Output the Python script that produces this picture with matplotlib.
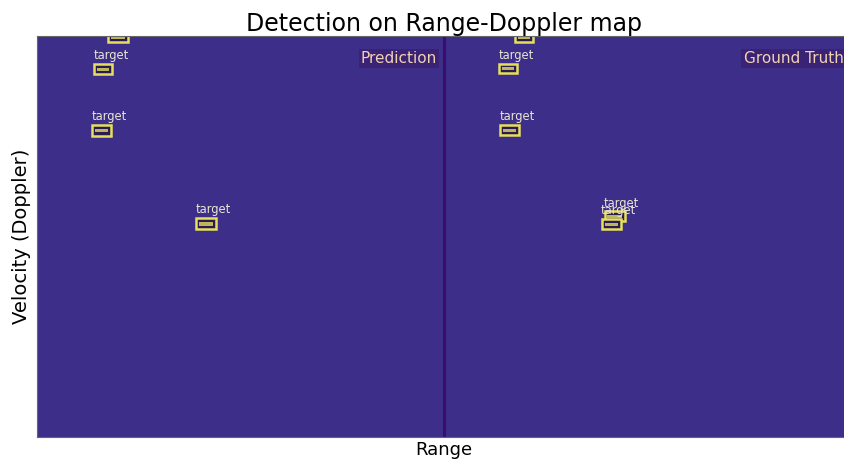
import numpy as np
import matplotlib
matplotlib.use("Agg")
import matplotlib.pyplot as plt
from matplotlib.colors import LinearSegmentedColormap
from matplotlib.patches import Rectangle

# Range-Doppler map size for one panel (doppler bins x range bins)
n_doppler = 128
n_range = 128
noise_level = 0.15

# Detections: (range start, doppler start, range width, doppler height)
pred_boxes = [
    (22.3, -1.0, 6.3, 2.9),
    (17.9, 8.9, 5.7, 3.2),
    (17.3, 28.4, 6.0, 3.5),
    (50.0, 58.1, 6.3, 3.6),
]
truth_boxes = [
    (22.5, -1.0, 5.6, 2.9),
    (17.5, 8.9, 5.6, 2.9),
    (17.8, 28.4, 5.9, 3.2),
    (50.7, 56.0, 6.3, 3.2),
    (49.8, 58.5, 6.0, 3.2),
]
box_label = "target"
panel_titles = ["Prediction", "Ground Truth"]

cmap = LinearSegmentedColormap.from_list(
    "rd", [(0.0, "#3a0c6c"), (0.15, "#3e2f8b"), (0.5, "#21918c"), (1.0, "#fde725")]
)

rd_map = np.full((n_doppler, 2 * n_range), noise_level)

fig = plt.figure(figsize=(8.44, 4.63), dpi=100)
ax = fig.add_axes([37 / 844, 26 / 463, 813 / 844, 401 / 463])
ax.imshow(rd_map, cmap=cmap, vmin=0, vmax=1, aspect="auto",
          extent=(0, 2 * n_range, n_doppler, 0), interpolation="nearest")
ax.set_xlim(0, 2 * n_range)
ax.set_ylim(n_doppler, 0)

# seam between the two maps
ax.axvline(n_range, color="#3a0c6c", lw=2.2)


def draw_boxes(boxes, offset):
    for r, d, w, h in boxes:
        x = r + offset
        ax.add_patch(Rectangle((x, d), w, h, facecolor="#2a1b52",
                               edgecolor="#e6df5c", lw=1.8, clip_on=True))
        ax.add_patch(Rectangle((x + 0.9, d + h * 0.38), w - 1.8, h * 0.3,
                               facecolor="#bdb65a", edgecolor="none", clip_on=True))
        # label sits above the box; skip it when that falls off the map
        if d - 0.6 > 1.5:
            ax.text(x - 0.2, d - 0.6, box_label, color="#e8e6d0", fontsize=8.3,
                    ha="left", va="bottom", clip_on=True)


draw_boxes(pred_boxes, 0)
draw_boxes(truth_boxes, n_range)

for i, name in enumerate(panel_titles):
    ax.text((i + 1) * n_range - 2.0, 7.2, name, color="#f0d2b4", fontsize=11,
            ha="right", va="center", clip_on=True,
            bbox=dict(boxstyle="square,pad=0.15", facecolor="#3a1f70",
                      edgecolor="none", alpha=0.8))

ax.set_xticks([])
ax.set_yticks([])
for spine in ax.spines.values():
    spine.set_color("#666666")
    spine.set_linewidth(0.8)

ax.set_title("Detection on Range-Doppler map", fontsize=17, pad=3)
ax.set_xlabel("Range", fontsize=13, labelpad=3)
ax.set_ylabel("Velocity (Doppler)", fontsize=14, labelpad=4)

fig.savefig("out.png", dpi=100)
